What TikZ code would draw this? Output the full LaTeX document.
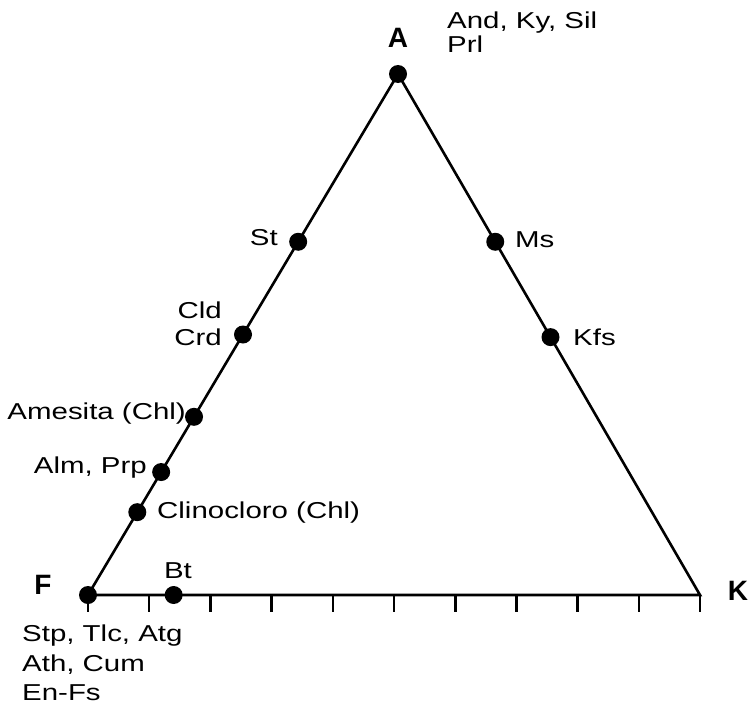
\documentclass[tikz,border=0pt]{standalone}
\usepackage{fontspec}
\setmainfont{Liberation Sans}[FakeStretch=1.28]
\newfontfamily\vfont{Liberation Sans}
\usetikzlibrary{calc}
\begin{document}
\begin{tikzpicture}[x=1pt,y=-1pt,
  dot/.style={circle,fill=black,inner sep=0pt,minimum size=18pt},
  lbl/.style={font=\fontsize{23}{27}\selectfont,inner sep=0pt},
  vlbl/.style={font=\vfont\bfseries\fontsize{28}{30}\selectfont,inner sep=0pt},
  edge/.style={line width=2.6pt}]
\useasboundingbox (0,0) rectangle (749,709);
\coordinate (cA) at (398,74);
\coordinate (cF) at (88,595);
\coordinate (cK) at (700,595);
\draw[edge,line join=miter] (cF) -- (cA) -- (cK) -- cycle;
\foreach \i in {0,...,10}
  \draw[edge] ($(cF)!\i/10!(cK)$) -- ++(0,17);
% dots
\node[dot] (A) at (cA) {};
\node[dot] (F) at (cF) {};
\node[dot] (St) at ($(cA)!0.322!(cF)$) {};
\node[dot] (Ms) at ($(cA)!0.322!(cK)$) {};
\node[dot] (Crd) at ($(cA)!0.50!(cF)$) {};
\node[dot] (Kfs) at ($(cA)!0.505!(cK)$) {};
\node[dot] (Ames) at ($(cA)!0.658!(cF)$) {};
\node[dot] (Alm) at ($(cA)!0.764!(cF)$) {};
\node[dot] (Clin) at ($(cA)!0.841!(cF)$) {};
\node[dot] (Bt) at ($(cF)!0.14!(cK)$) {};
% vertex labels
\node[vlbl] (tA) at (398,38) {A};
\node[vlbl] (tF) at (43,585) {F};
\node[vlbl] (tK) at (738,591) {K};
% mineral labels
\node[lbl,anchor=west] (tAKS) at (447,23) {And, Ky, Sil};
\node[lbl,anchor=west] (tPrl) at (447,44) {Prl};
\node[lbl,anchor=east] (tSt) at (278,238) {St};
\node[lbl,anchor=west] (tMs) at (515,240) {Ms};
\node[lbl,anchor=east] (tCld) at (222,310) {Cld};
\node[lbl,anchor=east] (tCrd) at (222,337) {Crd};
\node[lbl,anchor=west] (tKfs) at (573,337) {Kfs};
\node[lbl,anchor=east] (tAmes) at (186,414) {Amesita (Chl)};
\node[lbl,anchor=east] (tAlm) at (147,468) {Alm, Prp};
\node[lbl,anchor=west] (tClin) at (157,513) {Clinocloro (Chl)};
\node[lbl] (tBt) at (178,571) {Bt};
\node[lbl,anchor=west] (tStp) at (22,636) {Stp, Tlc, Atg};
\node[lbl,anchor=west] (tAth) at (22,665) {Ath, Cum};
\node[lbl,anchor=west] (tEn) at (22,693) {En-Fs};
\end{tikzpicture}
\end{document}
